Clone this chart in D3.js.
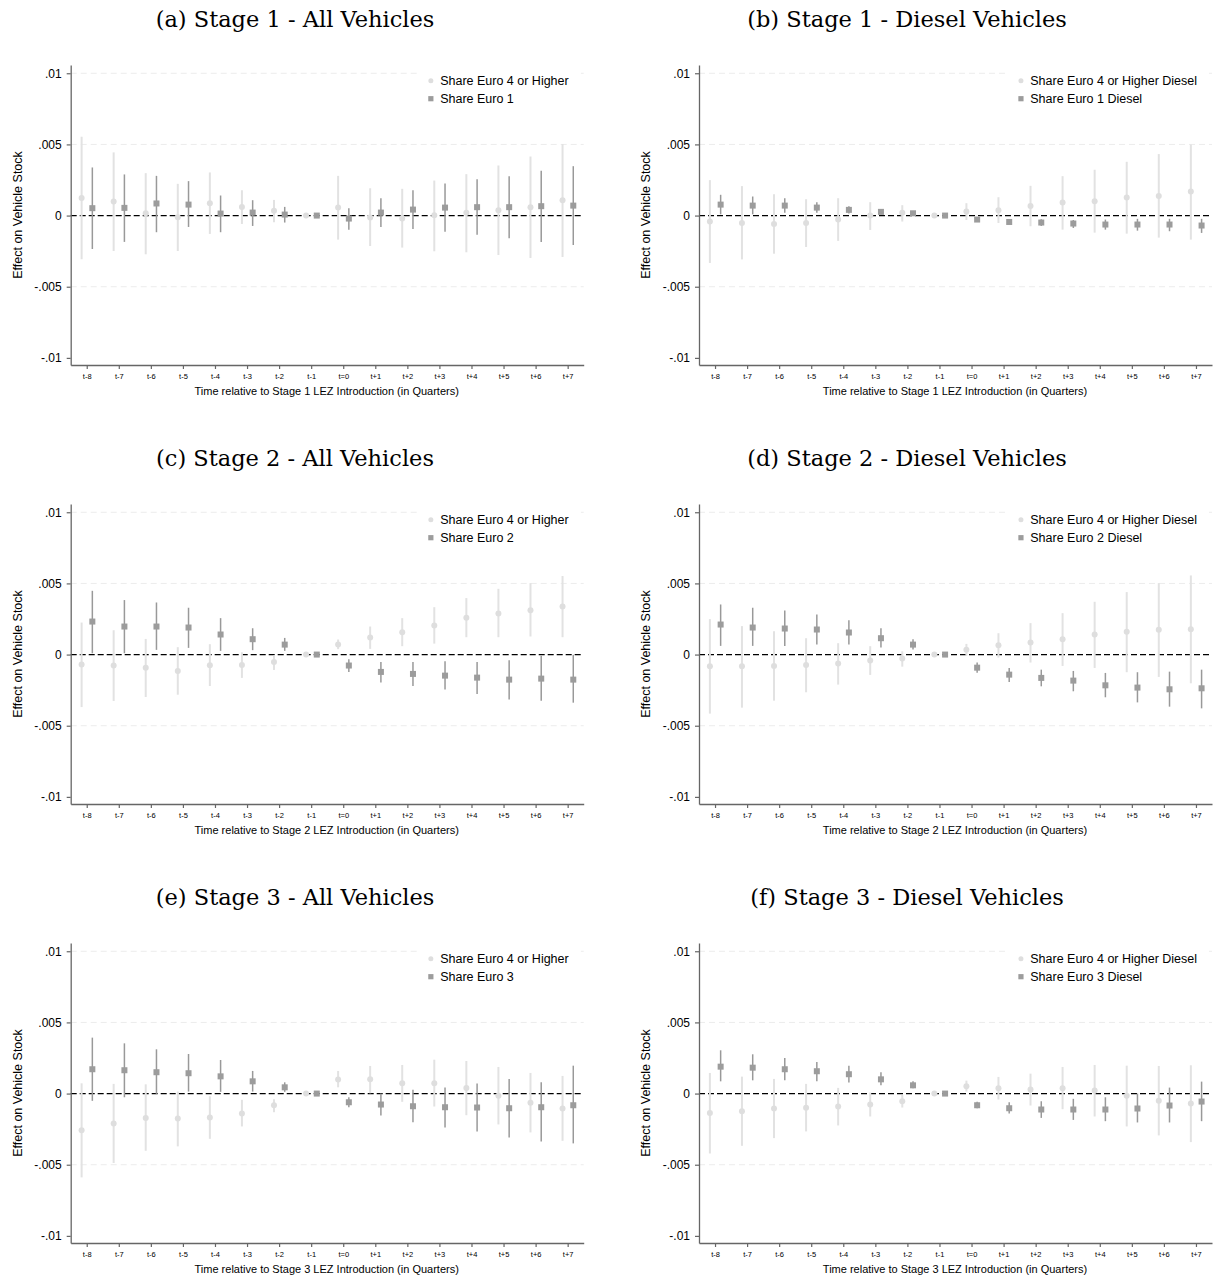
<!DOCTYPE html>
<html>
<head>
<meta charset="utf-8">
<script src="https://cdn.jsdelivr.net/npm/d3@7"></script>
<style>
  html, body { margin: 0; padding: 0; background: #fff; }
  svg { display: block; }
  text { font-family: "Liberation Sans", Arial, sans-serif; fill: #000; }
  .ptitle { font-family: "DejaVu Serif", serif; }
</style>
</head>
<body>
<svg id="chart" width="1214" height="1276"></svg>
<script>
// categories and ticks
var periods = ["t-8", "t-7", "t-6", "t-5", "t-4", "t-3", "t-2", "t-1", "t=0", "t+1", "t+2", "t+3", "t+4", "t+5", "t+6", "t+7"];
var yTicks = [10, 5, 0, -5, -10];            // in thousandths
var yTickLabels = [".01", ".005", "0", "-.005", "-.01"];

var panelTitles = ["(a) Stage 1 - All Vehicles", "(b) Stage 1 - Diesel Vehicles",
                   "(c) Stage 2 - All Vehicles", "(d) Stage 2 - Diesel Vehicles",
                   "(e) Stage 3 - All Vehicles", "(f) Stage 3 - Diesel Vehicles"];
var xTitles = ["Time relative to Stage 1 LEZ Introduction (in Quarters)", "Time relative to Stage 1 LEZ Introduction (in Quarters)",
               "Time relative to Stage 2 LEZ Introduction (in Quarters)", "Time relative to Stage 2 LEZ Introduction (in Quarters)",
               "Time relative to Stage 3 LEZ Introduction (in Quarters)", "Time relative to Stage 3 LEZ Introduction (in Quarters)"];
var legendHigh = ["Share Euro 4 or Higher", "Share Euro 4 or Higher Diesel",
                  "Share Euro 4 or Higher", "Share Euro 4 or Higher Diesel",
                  "Share Euro 4 or Higher", "Share Euro 4 or Higher Diesel"];
var legendLow = ["Share Euro 1", "Share Euro 1 Diesel",
                 "Share Euro 2", "Share Euro 2 Diesel",
                 "Share Euro 3", "Share Euro 3 Diesel"];

// estimates in thousandths: [coef, lower CI, upper CI]; reference period t-1 has no CI
var s1AllHigh = [[1.24,-3.07,5.54],[0.99,-2.49,4.44],[0.16,-2.72,2.98],[-0.12,-2.49,2.23],[0.87,-1.29,3.03],[0.61,-0.59,1.78],[0.33,-0.47,1.10],[0,null,null],
                 [0.56,-1.69,2.79],[-0.14,-2.14,1.92],[-0.21,-2.25,1.88],[0.02,-2.51,2.46],[0.19,-2.58,2.91],[0.38,-2.77,3.52],[0.59,-2.98,4.15],[1.08,-2.91,5.02]];
var s1AllLow = [[0.52,-2.35,3.38],[0.54,-1.85,2.89],[0.85,-1.17,2.79],[0.77,-0.80,2.42],[0.14,-1.17,1.41],[0.21,-0.73,1.08],[0.07,-0.49,0.61],[0,null,null],
                [-0.21,-0.99,0.52],[0.21,-0.80,1.22],[0.42,-0.94,1.78],[0.56,-1.13,2.25],[0.59,-1.34,2.56],[0.59,-1.60,2.77],[0.66,-1.85,3.15],[0.70,-2.07,3.47]];
var s1DieselHigh = [[-0.42,-3.33,2.49],[-0.52,-3.08,2.07],[-0.59,-2.68,1.50],[-0.52,-2.21,1.15],[-0.28,-1.78,1.22],[0.00,-1.01,0.94],[0.19,-0.42,0.73],[0,null,null],
                    [0.28,-0.31,0.87],[0.38,-0.52,1.29],[0.68,-0.75,2.09],[0.92,-0.99,2.77],[1.01,-1.20,3.22],[1.27,-1.27,3.78],[1.38,-1.55,4.32],[1.69,-1.69,5.00]];
var s1DieselLow = [[0.77,0.09,1.46],[0.70,0.09,1.34],[0.70,0.19,1.22],[0.56,0.19,0.94],[0.40,0.14,0.66],[0.26,0.09,0.42],[0.16,0.02,0.28],[0,null,null],
                   [-0.28,-0.42,-0.14],[-0.45,-0.61,-0.28],[-0.49,-0.73,-0.26],[-0.56,-0.87,-0.31],[-0.63,-0.99,-0.28],[-0.63,-1.06,-0.23],[-0.63,-1.10,-0.23],[-0.70,-1.22,-0.23]];
var s2AllHigh = [[-0.70,-3.69,2.25],[-0.77,-3.26,1.71],[-0.92,-2.98,1.10],[-1.15,-2.82,0.52],[-0.75,-2.21,0.73],[-0.73,-1.64,0.16],[-0.52,-1.08,-0.07],[0,null,null],
                 [0.70,0.38,1.06],[1.20,0.40,1.97],[1.57,0.59,2.56],[2.04,0.77,3.33],[2.58,1.22,3.97],[2.89,1.22,4.62],[3.12,1.27,5.02],[3.38,1.22,5.52]];
var s2AllLow = [[2.32,0.09,4.48],[1.97,0.09,3.83],[1.97,0.33,3.66],[1.90,0.47,3.29],[1.41,0.26,2.56],[1.08,0.31,1.85],[0.70,0.26,1.17],[0,null,null],
                [-0.77,-1.22,-0.33],[-1.22,-1.97,-0.52],[-1.36,-2.21,-0.52],[-1.48,-2.46,-0.47],[-1.62,-2.77,-0.52],[-1.76,-3.15,-0.40],[-1.69,-3.24,-0.09],[-1.76,-3.38,-0.02]];
var s2DieselHigh = [[-0.82,-4.15,2.49],[-0.82,-3.73,2.00],[-0.80,-3.24,1.64],[-0.73,-2.65,1.15],[-0.63,-2.11,0.80],[-0.42,-1.43,0.59],[-0.28,-0.85,0.23],[0,null,null],
                    [0.33,-0.09,0.75],[0.66,-0.21,1.50],[0.85,-0.56,2.21],[1.08,-0.80,2.91],[1.41,-0.94,3.71],[1.60,-1.24,4.39],[1.74,-1.57,5.02],[1.78,-2.02,5.56]];
var s2DieselLow = [[2.11,0.61,3.52],[1.90,0.61,3.29],[1.83,0.61,3.10],[1.76,0.70,2.82],[1.55,0.70,2.42],[1.15,0.49,1.85],[0.70,0.35,1.08],[0,null,null],
                   [-0.92,-1.27,-0.56],[-1.41,-1.92,-0.94],[-1.64,-2.23,-1.06],[-1.83,-2.58,-1.15],[-2.16,-3.00,-1.29],[-2.32,-3.36,-1.24],[-2.44,-3.66,-1.20],[-2.37,-3.78,-1.06]];
var s3AllHigh = [[-2.57,-5.89,0.72],[-2.10,-4.88,0.68],[-1.71,-4.02,0.65],[-1.75,-3.71,0.14],[-1.68,-3.18,-0.19],[-1.40,-2.31,-0.44],[-0.82,-1.31,-0.40],[0,null,null],
                 [0.98,0.44,1.59],[1.00,0.02,1.94],[0.72,-0.58,2.01],[0.72,-0.91,2.38],[0.40,-1.52,2.29],[-0.16,-2.17,1.87],[-0.65,-2.73,1.45],[-1.05,-3.32,1.24]];
var s3AllLow = [[1.71,-0.51,3.93],[1.64,-0.26,3.53],[1.50,-0.02,3.11],[1.43,0.14,2.78],[1.21,0.12,2.36],[0.86,0.14,1.59],[0.44,0.12,0.79],[0,null,null],
                [-0.61,-0.96,-0.26],[-0.77,-1.54,0.00],[-0.89,-2.01,0.26],[-0.96,-2.38,0.42],[-0.98,-2.66,0.70],[-1.03,-3.08,1.03],[-0.96,-3.36,0.79],[-0.82,-3.50,1.96]];
var s3DieselHigh = [[-1.36,-4.21,1.45],[-1.24,-3.67,1.19],[-1.05,-3.13,1.03],[-1.00,-2.66,0.68],[-0.91,-2.24,0.40],[-0.77,-1.61,0.07],[-0.54,-0.98,-0.09],[0,null,null],
                    [0.51,0.14,0.91],[0.37,-0.42,1.17],[0.28,-0.84,1.40],[0.37,-1.10,1.87],[0.21,-1.61,2.01],[-0.16,-2.31,1.96],[-0.51,-2.94,1.94],[-0.70,-3.41,1.99]];
var s3DieselLow = [[1.89,0.86,3.04],[1.82,0.93,2.76],[1.71,0.93,2.50],[1.57,0.86,2.22],[1.36,0.77,1.96],[1.00,0.58,1.50],[0.58,0.37,0.86],[0,null,null],
                   [-0.82,-1.03,-0.58],[-1.03,-1.40,-0.61],[-1.12,-1.71,-0.54],[-1.12,-1.85,-0.37],[-1.12,-1.94,-0.26],[-1.05,-2.03,0.00],[-0.84,-2.03,0.42],[-0.56,-1.94,0.84]];

var highSeries = [s1AllHigh, s1DieselHigh, s2AllHigh, s2DieselHigh, s3AllHigh, s3DieselHigh];
var lowSeries = [s1AllLow, s1DieselLow, s2AllLow, s2DieselLow, s3AllLow, s3DieselLow];

// layout
var colX = [70.7, 699];
var titleX = [295, 907];
var rowOff = [0, 439, 878];
var plotW = 513;
var yTop = 65, yBot = 365;

var lightCol = "#dedede", darkCol = "#9c9c9c";

var svg = d3.select("#chart");

for (var p = 0; p < 6; p++) {
  var col = p % 2, row = Math.floor(p / 2);
  var x0 = colX[col], dy = rowOff[row];
  var g = svg.append("g").attr("transform", "translate(0," + dy + ")");

  var x = d3.scaleLinear().domain([-0.5, 15.5]).range([x0, x0 + plotW]);
  var y = d3.scaleLinear().domain([-10.5, 10.58]).range([yBot, yTop]);

  // title
  g.append("text").attr("class", "ptitle")
    .attr("x", titleX[col]).attr("y", 26.5)
    .attr("text-anchor", "middle")
    .style("font-size", "22.5px")
    .text(panelTitles[p]);

  // gridlines
  g.selectAll(".grid").data(yTicks.filter(function(d) { return d !== 0 && d !== -10; }))
    .enter().append("line")
    .attr("x1", x0).attr("x2", x0 + plotW)
    .attr("y1", function(d) { return y(d); }).attr("y2", function(d) { return y(d); })
    .attr("stroke", "#ececec").attr("stroke-width", 1).attr("stroke-dasharray", "6,4");

  // zero line
  g.append("line")
    .attr("x1", x0).attr("x2", x0 + plotW)
    .attr("y1", y(0)).attr("y2", y(0))
    .attr("stroke", "#000").attr("stroke-width", 1.3).attr("stroke-dasharray", "6,3");

  var hi = highSeries[p], lo = lowSeries[p];
  var offHi = -0.16, offLo = 0.175;

  // confidence intervals
  g.selectAll(".ciHi").data(hi.map(function(d, i) { return [i, d]; }).filter(function(d) { return d[1][1] !== null; }))
    .enter().append("line")
    .attr("x1", function(d) { return x(d[0] + offHi); }).attr("x2", function(d) { return x(d[0] + offHi); })
    .attr("y1", function(d) { return y(d[1][1]); }).attr("y2", function(d) { return y(d[1][2]); })
    .attr("stroke", "#e2e2e2").attr("stroke-width", 2);
  g.selectAll(".ciLo").data(lo.map(function(d, i) { return [i, d]; }).filter(function(d) { return d[1][1] !== null; }))
    .enter().append("line")
    .attr("x1", function(d) { return x(d[0] + offLo); }).attr("x2", function(d) { return x(d[0] + offLo); })
    .attr("y1", function(d) { return y(d[1][1]); }).attr("y2", function(d) { return y(d[1][2]); })
    .attr("stroke", "#999").attr("stroke-width", 1.5);

  // markers
  g.selectAll(".ptHi").data(hi).enter().append("circle")
    .attr("cx", function(d, i) { return x(i + offHi); })
    .attr("cy", function(d) { return y(d[0]); })
    .attr("r", 3).attr("fill", lightCol);
  g.selectAll(".ptLo").data(lo).enter().append("rect")
    .attr("x", function(d, i) { return x(i + offLo) - 3; })
    .attr("y", function(d) { return y(d[0]) - 3; })
    .attr("width", 6).attr("height", 6).attr("fill", darkCol);

  // axes
  var yAxis = d3.axisLeft(y).tickValues(yTicks)
    .tickFormat(function(d, i) { return yTickLabels[i]; })
    .tickSize(4).tickSizeOuter(0).tickPadding(5);
  var ya = g.append("g").attr("transform", "translate(" + x0 + ",0)").call(yAxis);
  ya.select(".domain").attr("stroke", "#666").attr("stroke-width", 1.3);
  ya.selectAll(".tick line").attr("stroke", "#666").attr("stroke-width", 1.2);
  ya.selectAll("text").style("font-size", "12px").attr("fill", "#000")
    .attr("font-family", "Liberation Sans, Arial, sans-serif");

  var xAxis = d3.axisBottom(x).tickValues(d3.range(periods.length))
    .tickFormat(function(i) { return periods[i]; })
    .tickSize(4).tickSizeOuter(0).tickPadding(4.2);
  var xa = g.append("g").attr("transform", "translate(0," + yBot + ")").call(xAxis);
  xa.select(".domain").attr("stroke", "#666").attr("stroke-width", 1.3);
  xa.selectAll(".tick line").attr("stroke", "#666").attr("stroke-width", 1.2);
  xa.selectAll("text").style("font-size", "7.5px").attr("fill", "#000")
    .attr("font-family", "Liberation Sans, Arial, sans-serif");

  // axis titles
  g.append("text")
    .attr("x", x0 + plotW / 2 - 0.5).attr("y", 394.5)
    .attr("text-anchor", "middle").style("font-size", "11px")
    .text(xTitles[p]);
  g.append("text")
    .attr("transform", "translate(" + (x0 - 48.7) + "," + ((yTop + yBot) / 2) + ") rotate(-90)")
    .attr("text-anchor", "middle").style("font-size", "12.5px")
    .text("Effect on Vehicle Stock");

  // legend
  var leg = g.append("g");
  var t1 = leg.append("text").attr("y", 85.2).style("font-size", "12.5px").text(legendHigh[p]);
  var t2 = leg.append("text").attr("y", 103.2).style("font-size", "12.5px").text(legendLow[p]);
  var tw = Math.max(t1.node().getComputedTextLength(), t2.node().getComputedTextLength());
  var tx = x0 + plotW - 15 - tw;
  t1.attr("x", tx); t2.attr("x", tx);
  leg.insert("rect", "text")
    .attr("x", tx - 22).attr("y", 66)
    .attr("width", x0 + plotW - 3 - (tx - 22)).attr("height", 42)
    .attr("fill", "#fff");
  leg.append("circle").attr("cx", tx - 9.3).attr("cy", 80.7).attr("r", 2.5).attr("fill", lightCol);
  leg.append("rect").attr("x", tx - 9.3 - 2.6).attr("y", 98.7 - 2.6).attr("width", 5.2).attr("height", 5.2).attr("fill", darkCol);
}
</script>
</body>
</html>
